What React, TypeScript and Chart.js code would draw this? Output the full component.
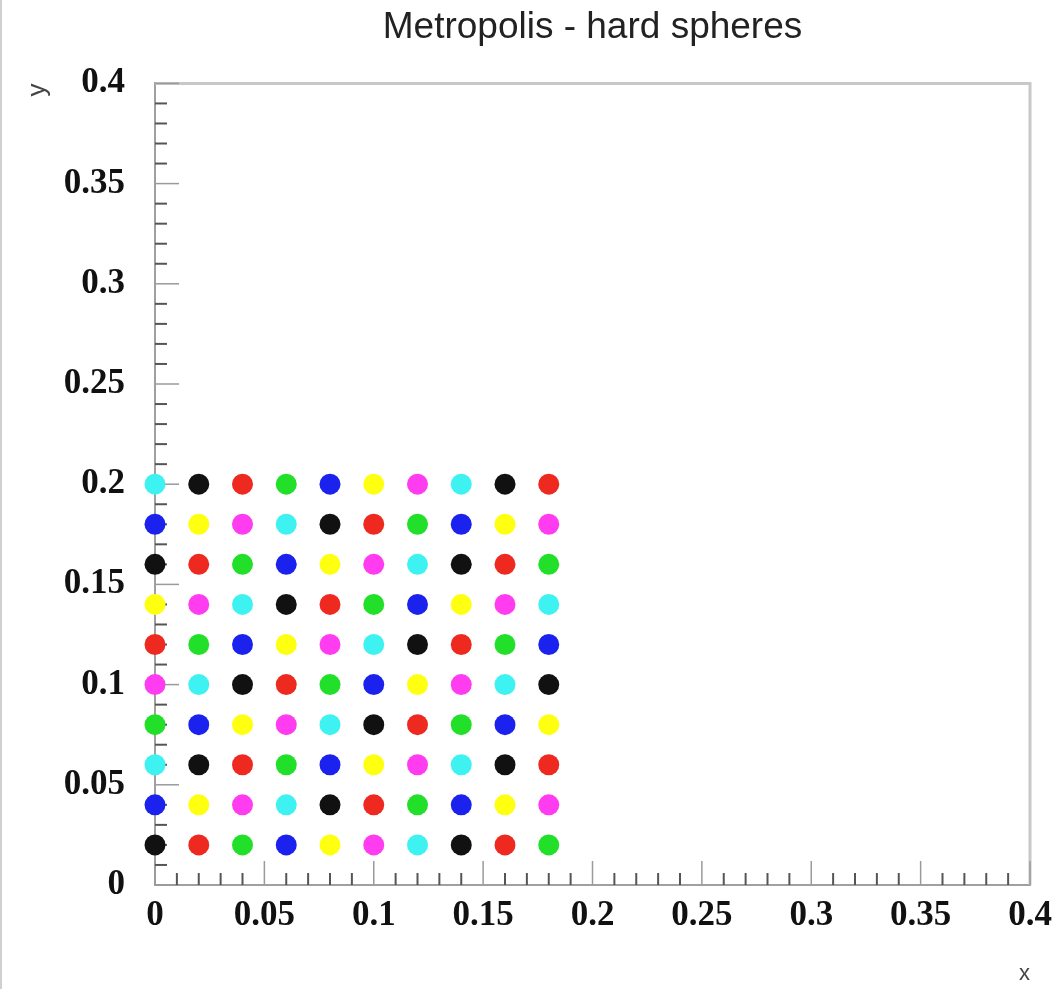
import React, { useEffect, useRef } from "react";
import { Chart, registerables } from "chart.js";

Chart.register(...registerables);

// Column x positions and row y positions of the particle grid
const colX = [0, 0.02, 0.04, 0.06, 0.08, 0.1, 0.12, 0.14, 0.16, 0.18];
const rowY = [0.2, 0.18, 0.16, 0.14, 0.12, 0.1, 0.08, 0.06, 0.04, 0.02];

// Marker colour codes, one row per y (top to bottom), one entry per x
const colorRows = [
  ["c", "k", "r", "g", "b", "y", "m", "c", "k", "r"],
  ["b", "y", "m", "c", "k", "r", "g", "b", "y", "m"],
  ["k", "r", "g", "b", "y", "m", "c", "k", "r", "g"],
  ["y", "m", "c", "k", "r", "g", "b", "y", "m", "c"],
  ["r", "g", "b", "y", "m", "c", "k", "r", "g", "b"],
  ["m", "c", "k", "r", "g", "b", "y", "m", "c", "k"],
  ["g", "b", "y", "m", "c", "k", "r", "g", "b", "y"],
  ["c", "k", "r", "g", "b", "y", "m", "c", "k", "r"],
  ["b", "y", "m", "c", "k", "r", "g", "b", "y", "m"],
  ["k", "r", "g", "b", "y", "m", "c", "k", "r", "g"],
];

const palette: Record<string, string> = {
  k: "#111111",
  r: "#ee2a20",
  g: "#22e02a",
  b: "#1c22ee",
  y: "#ffff10",
  m: "#ff3cf0",
  c: "#3ef2f2",
};

const xTickValues = [0, 0.05, 0.1, 0.15, 0.2, 0.25, 0.3, 0.35, 0.4];
const xTickLabels = ["0", "0.05", "0.1", "0.15", "0.2", "0.25", "0.3", "0.35", "0.4"];
const yTickValues = [0, 0.05, 0.1, 0.15, 0.2, 0.25, 0.3, 0.35, 0.4];
const yTickLabels = ["0", "0.05", "0.1", "0.15", "0.2", "0.25", "0.3", "0.35", "0.4"];
const minorStep = 0.01;

const TITLE = "Metropolis - hard spheres";

const rootAxes = {
  id: "rootAxes",
  beforeDatasetsDraw(chart: any) {
    const { ctx, chartArea, scales } = chart;
    const { left, right, top, bottom } = chartArea;
    ctx.save();
    // top & right frame
    ctx.strokeStyle = "#c8c8c8";
    ctx.lineWidth = 3;
    ctx.beginPath();
    ctx.moveTo(left, top);
    ctx.lineTo(right, top);
    ctx.lineTo(right, bottom);
    ctx.stroke();
    // ticks inside the frame
    const xs = scales.x;
    const ys = scales.y;
    for (let i = 0; i <= 40; i++) {
      const v = i * minorStep;
      const major = i % 5 === 0;
      const len = major ? 24 : 12;
      ctx.strokeStyle = major ? "#9a9a9a" : "#555555";
      ctx.lineWidth = major ? 1.5 : 2;
      const px = xs.getPixelForValue(v);
      ctx.beginPath();
      ctx.moveTo(px, bottom);
      ctx.lineTo(px, bottom - len);
      ctx.stroke();
      const py = ys.getPixelForValue(v);
      ctx.beginPath();
      ctx.moveTo(left, py);
      ctx.lineTo(left + len, py);
      ctx.stroke();
    }
    ctx.restore();
  },
};

export default function App() {
  const ref = useRef<HTMLCanvasElement | null>(null);

  useEffect(() => {
    if (!ref.current) return;
    const points: { x: number; y: number }[] = [];
    const colors: string[] = [];
    rowY.forEach((y, r) => {
      colX.forEach((x, c) => {
        points.push({ x, y });
        colors.push(palette[colorRows[r][c]]);
      });
    });

    const tickFont = { family: "'Liberation Serif', 'DejaVu Serif', serif", size: 35, weight: "bold" as const };

    const chart = new Chart(ref.current, {
      type: "scatter",
      data: {
        datasets: [
          {
            data: points,
            pointBackgroundColor: colors,
            pointBorderWidth: 0,
            pointRadius: 10.5,
            pointStyle: "circle",
            clip: false as any,
          },
        ],
      },
      plugins: [rootAxes],
      options: {
        animation: false,
        responsive: false,
        layout: { padding: { left: 0, right: 27, top: 0, bottom: 0 } },
        plugins: {
          legend: { display: false },
          tooltip: { enabled: false },
          title: {
            display: true,
            fullSize: false,
            text: TITLE,
            color: "#222",
            font: { family: "'Liberation Sans', Arial, sans-serif", size: 37, weight: "normal" },
            padding: { top: 6, bottom: 33 },
          },
        },
        scales: {
          x: {
            type: "linear",
            min: 0,
            max: 0.4,
            afterBuildTicks: (s: any) => {
              s.ticks = xTickValues.map((v) => ({ value: v }));
            },
            afterFit: (s: any) => {
              s.height = 104;
              s.paddingLeft = 0;
              s.paddingRight = 0;
            },
            ticks: {
              autoSkip: false,
              maxRotation: 0,
              padding: 10,
              color: "#111",
              font: tickFont,
              callback: (_v: any, i: number) => xTickLabels[i],
            },
            grid: { display: false, drawTicks: false },
            border: { display: true, color: "#a0a0a0", width: 2 },
            title: {
              display: true,
              text: "x",
              align: "end",
              color: "#444",
              font: { family: "'Liberation Sans', Arial, sans-serif", size: 22 },
              padding: { top: 0, bottom: 2 },
            },
          },
          y: {
            type: "linear",
            min: 0,
            max: 0.4,
            afterBuildTicks: (s: any) => {
              s.ticks = yTickValues.map((v) => ({ value: v }));
            },
            afterFit: (s: any) => {
              s.width = 155;
            },
            ticks: {
              autoSkip: false,
              padding: 30,
              color: "#111",
              font: tickFont,
              callback: (_v: any, i: number) => yTickLabels[i],
            },
            grid: { display: false, drawTicks: false },
            border: { display: true, color: "#a0a0a0", width: 2 },
            title: {
              display: true,
              text: "y",
              align: "end",
              color: "#444",
              font: { family: "'Liberation Sans', Arial, sans-serif", size: 26 },
              padding: { top: 22, bottom: 0 },
            },
          },
        },
      },
    });
    return () => chart.destroy();
  }, []);

  return (
    <div style={{ position: "absolute", left: 0, top: 0, width: 1057, height: 989, background: "#fff" }}>
      <canvas ref={ref} width={1057} height={989} style={{ display: "block" }} />
      <div style={{ position: "absolute", left: 0, top: 0, width: 2, height: 989, background: "#d0d0d0" }} />
    </div>
  );
}
